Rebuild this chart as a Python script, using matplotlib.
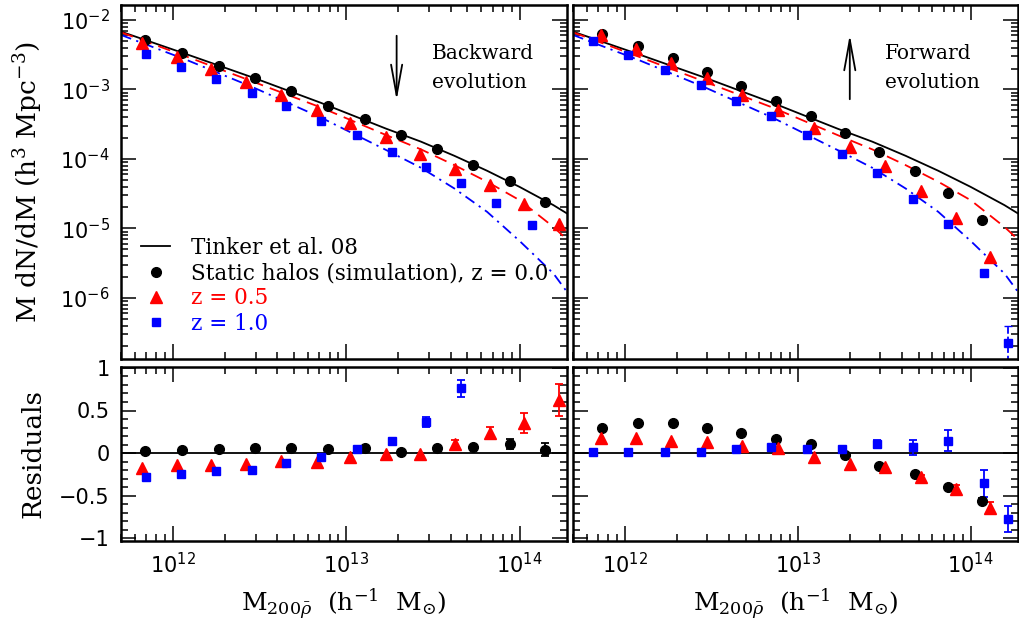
import numpy as np
import matplotlib
matplotlib.use("Agg")
import matplotlib.pyplot as plt
from matplotlib.lines import Line2D
from matplotlib.ticker import LogLocator, MultipleLocator, NullFormatter, FuncFormatter

OUTPUT_FILE = "out.png"

# Tinker et al. 08 mass functions (same curves in both panels)
CURVE_M = [5.0e11, 1.2e12, 2.9e12, 7.1e12, 1.7e13, 2.7e13, 4.2e13, 6.5e13, 1.0e14, 1.57e14, 1.88e14]
TINKER_Z00 = [6.79e-3, 3.20e-3, 1.476e-3, 6.44e-4, 2.72e-4, 1.77e-4, 1.11e-4, 6.75e-5, 3.96e-5, 2.16e-5, 1.64e-5]
TINKER_Z05 = [6.64e-3, 2.96e-3, 1.29e-3, 5.52e-4, 2.20e-4, 1.37e-4, 8.15e-5, 4.69e-5, 2.55e-5, 1.05e-5, 6.92e-6]
TINKER_Z10 = [6.08e-3, 2.65e-3, 1.07e-3, 3.96e-4, 1.34e-4, 7.45e-5, 3.76e-5, 1.73e-5, 6.61e-6, 2.24e-6, 1.22e-6]

# Backward evolution (left panels)
BW_M_Z00 = [6.92e11, 1.127e12, 1.832e12, 2.958e12, 4.82e12, 7.83e12, 1.276e13, 2.07e13, 3.33e13, 5.38e13, 8.83e13, 1.406e14]
BW_N_Z00 = [5.15e-3, 3.38e-3, 2.20e-3, 1.46e-3, 9.4e-4, 5.77e-4, 3.71e-4, 2.23e-4, 1.37e-4, 8.2e-5, 4.74e-5, 2.42e-5]
BW_RES_Z00 = [0.023, 0.034, 0.046, 0.057, 0.057, 0.046, 0.061, 0.019, 0.057, 0.069, 0.107, 0.042]
BW_ERR_Z00 = [0, 0, 0, 0, 0, 0, 0, 0, 0, 0, 0.054, 0.08]

BW_M_Z05 = [6.62e11, 1.054e12, 1.656e12, 2.65e12, 4.22e12, 6.78e12, 1.054e13, 1.694e13, 2.67e13, 4.26e13, 6.71e13, 1.064e14, 1.70e14]
BW_N_Z05 = [4.61e-3, 2.96e-3, 1.95e-3, 1.29e-3, 8.3e-4, 5.05e-4, 3.24e-4, 2.04e-4, 1.17e-4, 7.2e-5, 4.19e-5, 2.23e-5, 1.17e-5]
BW_RES_Z05 = [-0.172, -0.142, -0.142, -0.126, -0.096, -0.103, -0.046, -0.015, -0.008, 0.103, 0.234, 0.352, 0.624]
BW_ERR_Z05 = [0, 0, 0, 0, 0, 0, 0, 0, 0, 0.046, 0.067, 0.119, 0.184]

BW_M_Z10 = [7.01e11, 1.117e12, 1.778e12, 2.86e12, 4.51e12, 7.18e12, 1.153e13, 1.837e13, 2.90e13, 4.61e13, 7.35e13, 1.180e14]
BW_N_Z10 = [3.24e-3, 2.12e-3, 1.40e-3, 8.8e-4, 5.77e-4, 3.51e-4, 2.20e-4, 1.24e-4, 7.55e-5, 4.53e-5, 2.29e-5, 1.11e-5]
BW_RES_Z10 = [-0.276, -0.249, -0.207, -0.192, -0.115, -0.050, 0.050, 0.142, 0.368, 0.759]
BW_ERR_Z10 = [0, 0, 0, 0, 0, 0, 0, 0, 0.057, 0.096]

# Forward evolution (right panels)
FW_M_Z00 = [7.40e11, 1.189e12, 1.892e12, 2.99e12, 4.71e12, 7.46e12, 1.189e13, 1.875e13, 2.95e13, 4.75e13, 7.35e13, 1.169e14]
FW_N_Z00 = [6.21e-3, 4.27e-3, 2.81e-3, 1.78e-3, 1.12e-3, 6.81e-4, 4.14e-4, 2.33e-4, 1.24e-4, 6.75e-5, 3.18e-5, 1.31e-5]
FW_RES_Z00 = [0.299, 0.356, 0.349, 0.299, 0.241, 0.165, 0.107, -0.027, -0.149, -0.245, -0.398, -0.556]
FW_ERR_Z00 = [0, 0, 0, 0, 0, 0, 0, 0, 0, 0, 0, 0.03]

FW_M_Z05 = [7.24e11, 1.153e12, 1.849e12, 2.99e12, 4.75e12, 7.73e12, 1.242e13, 2.00e13, 3.21e13, 5.14e13, 8.26e13, 1.288e14]
FW_N_Z05 = [6.08e-3, 3.78e-3, 2.38e-3, 1.45e-3, 8.3e-4, 5.05e-4, 2.81e-4, 1.50e-4, 7.96e-5, 3.48e-5, 1.39e-5, 3.89e-6]
FW_RES_Z05 = [0.176, 0.172, 0.146, 0.126, 0.080, 0.057, -0.046, -0.123, -0.161, -0.284, -0.418, -0.640]
FW_ERR_Z05 = [0, 0, 0, 0, 0, 0, 0, 0, 0, 0.03, 0.046, 0.069]

FW_M_Z10 = [6.53e11, 1.045e12, 1.694e12, 2.74e12, 4.36e12, 6.98e12, 1.127e13, 1.795e13, 2.86e13, 4.61e13, 7.41e13, 1.194e14, 1.644e14]
FW_N_Z10 = [4.98e-3, 3.13e-3, 1.91e-3, 1.15e-3, 6.89e-4, 4.09e-4, 2.18e-4, 1.16e-4, 6.18e-5, 2.69e-5, 1.17e-5, 2.29e-6, 2.24e-7]
FW_RES_Z10 = [0.019, 0.019, 0.019, 0.019, 0.050, 0.069, 0.050, 0.050, 0.107, 0.069, 0.146, -0.352, -0.774]
FW_ERR_Z10 = [0, 0, 0, 0, 0, 0, 0, 0, 0.046, 0.09, 0.12, 0.16, 0.153]
FW_LAST_Z10_UP = 3.9e-7  # top of the (dashed) error bar on the last z=1 point

XLIM = (5.0e11, 1.88e14)
YLIM_MF = (1.32e-7, 1.64e-2)
YLIM_RES = (-1.03, 1.01)

LBL_FONT = "DejaVu Serif"
TICK_FONT = "DejaVu Sans"

plt.rcParams["mathtext.fontset"] = "dejavuserif"
plt.rcParams["font.family"] = TICK_FONT
plt.rcParams["axes.linewidth"] = 1.8


def style_axes(ax):
    """Inward ticks on every side, like the SM plots."""
    ax.tick_params(which="both", direction="in", top=True, right=True, labelsize=15, pad=8)
    ax.tick_params(which="major", length=10.5, width=1.1)
    ax.tick_params(which="minor", length=5, width=1.1)
    ax.set_xscale("log")
    ax.set_xlim(*XLIM)
    ax.xaxis.set_major_locator(LogLocator(base=10, numticks=10))
    ax.xaxis.set_minor_locator(LogLocator(base=10, subs=np.arange(2, 10), numticks=20))
    ax.xaxis.set_minor_formatter(NullFormatter())


def plot_mass_function(ax, series, last_err=None):
    ax.set_yscale("log")
    ax.plot(CURVE_M, TINKER_Z00, color="black", lw=1.3, zorder=2)
    ax.plot(CURVE_M, TINKER_Z05, color="red", lw=1.3, dashes=(7, 4), zorder=2)
    ax.plot(CURVE_M, TINKER_Z10, color="blue", lw=1.3, dashes=(6, 3, 1.2, 3), zorder=2)
    for m, n, mk, col, ms in series:
        ax.plot(m, n, ls="none", marker=mk, color=col, ms=ms, zorder=3)
    if last_err is not None:
        m, n, up = last_err
        eb = ax.errorbar([m], [n], yerr=[[n - 1e-9], [up - n]], fmt="none",
                         ecolor="blue", elinewidth=1.3, capsize=3, zorder=2)
        eb[2][0].set_linestyle("--")
    ax.set_ylim(*YLIM_MF)
    ax.yaxis.set_minor_locator(LogLocator(base=10, subs=np.arange(2, 10), numticks=20))
    ax.yaxis.set_minor_formatter(NullFormatter())
    ax.tick_params(labelbottom=False)


def plot_residuals(ax, series):
    ax.axhline(0, color="black", lw=1.3, zorder=1)
    for m, r, err, mk, col, ms in series:
        m = np.asarray(m[:len(r)])
        r = np.asarray(r)
        err = np.asarray(err)
        has = err > 0
        ax.errorbar(m[has], r[has], yerr=err[has], fmt="none", ecolor=col,
                    elinewidth=1.3, capsize=3, capthick=1.3, zorder=2)
        ax.plot(m, r, ls="none", marker=mk, color=col, ms=ms, zorder=3)
    ax.set_ylim(*YLIM_RES)
    ax.yaxis.set_major_locator(MultipleLocator(0.5))
    ax.yaxis.set_minor_locator(MultipleLocator(0.1))
    ax.yaxis.set_major_formatter(FuncFormatter(lambda v, p: f"{v:g}".replace("-", "\u2212")))


def add_arrow_text(ax, x, y_from, y_to, lines, tx):
    ax.annotate("", xy=(x, y_to), xytext=(x, y_from), xycoords="axes fraction",
                arrowprops=dict(arrowstyle="->,head_length=2.2,head_width=0.4",
                                lw=1.3, color="black", mutation_scale=10))
    ax.text(tx, 0.862, lines[0], transform=ax.transAxes, va="center", ha="left",
            fontsize=14.5, family=LBL_FONT)
    ax.text(tx, 0.782, lines[1], transform=ax.transAxes, va="center", ha="left",
            fontsize=14.5, family=LBL_FONT)


if __name__ == "__main__":
    W, H = 1019, 624
    fig = plt.figure(figsize=(W / 100, H / 100), dpi=100)
    ax_tl = fig.add_axes([121 / W, 1 - 359 / H, 446 / W, 354 / H])
    ax_tr = fig.add_axes([573 / W, 1 - 359 / H, 445 / W, 354 / H])
    ax_bl = fig.add_axes([121 / W, 1 - 541 / H, 446 / W, 174 / H])
    ax_br = fig.add_axes([573 / W, 1 - 541 / H, 445 / W, 174 / H])
    for ax in (ax_tl, ax_tr, ax_bl, ax_br):
        style_axes(ax)

    plot_mass_function(ax_tl, [
        (BW_M_Z00, BW_N_Z00, "o", "black", 7),
        (BW_M_Z05, BW_N_Z05, "^", "red", 8),
        (BW_M_Z10, BW_N_Z10, "s", "blue", 6.3),
    ])
    plot_mass_function(ax_tr, [
        (FW_M_Z00, FW_N_Z00, "o", "black", 7),
        (FW_M_Z05, FW_N_Z05, "^", "red", 8),
        (FW_M_Z10, FW_N_Z10, "s", "blue", 6.3),
    ], last_err=(FW_M_Z10[-1], FW_N_Z10[-1], FW_LAST_Z10_UP))

    plot_residuals(ax_bl, [
        (BW_M_Z00, BW_RES_Z00, BW_ERR_Z00, "o", "black", 7),
        (BW_M_Z05, BW_RES_Z05, BW_ERR_Z05, "^", "red", 8),
        (BW_M_Z10, BW_RES_Z10, BW_ERR_Z10, "s", "blue", 6.3),
    ])
    plot_residuals(ax_br, [
        (FW_M_Z00, FW_RES_Z00, FW_ERR_Z00, "o", "black", 7),
        (FW_M_Z05, FW_RES_Z05, FW_ERR_Z05, "^", "red", 8),
        (FW_M_Z10, FW_RES_Z10, FW_ERR_Z10, "s", "blue", 6.3),
    ])
    ax_tr.tick_params(labelleft=False)
    ax_br.tick_params(labelleft=False)

    # axis labels
    ax_tl.set_ylabel(r"M dN/dM (h$^3$ Mpc$^{-3}$)", fontsize=19, family=LBL_FONT)
    ax_bl.set_ylabel("Residuals", fontsize=19, family=LBL_FONT)
    ax_tl.yaxis.set_label_coords(-76 / 446, 0.5)
    ax_bl.yaxis.set_label_coords(-76 / 446, 0.5)
    xlab = r"M$_{200\bar{\rho}}$  (h$^{-1}$  M$_{\odot}$)"
    ax_bl.set_xlabel(xlab, fontsize=18, family=LBL_FONT, labelpad=6)
    ax_br.set_xlabel(xlab, fontsize=18, family=LBL_FONT, labelpad=6)

    # legend
    handles = [
        Line2D([], [], color="black", lw=1.3),
        Line2D([], [], ls="none", marker="o", color="black", ms=7),
        Line2D([], [], ls="none", marker="^", color="red", ms=8),
        Line2D([], [], ls="none", marker="s", color="blue", ms=6.3),
    ]
    labels = ["Tinker et al. 08", "Static halos (simulation), z = 0.0", "z = 0.5", "z = 1.0"]
    leg = ax_tl.legend(handles, labels, loc="lower left", bbox_to_anchor=(0.045, 0.068),
                       frameon=False, borderpad=0, borderaxespad=0, handlelength=1.35,
                       handletextpad=0.95, labelspacing=0.16,
                       prop={"family": LBL_FONT, "size": 15.5})
    for txt, col in zip(leg.get_texts(), ["black", "black", "red", "blue"]):
        txt.set_color(col)

    # evolution arrows
    add_arrow_text(ax_tl, 0.618, 0.921, 0.723, ("Backward", "evolution"), 0.697)
    add_arrow_text(ax_tr, 0.622, 0.726, 0.924, ("Forward", "evolution"), 0.701)

    fig.savefig(OUTPUT_FILE, dpi=100)
